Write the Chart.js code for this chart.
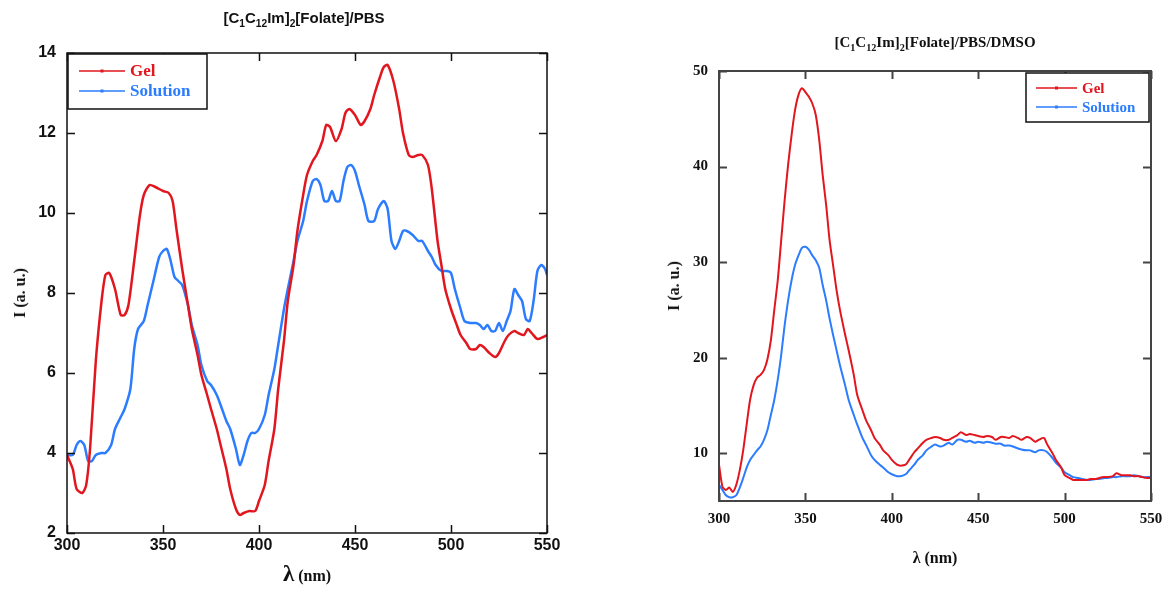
<!DOCTYPE html>
<html>
<head>
<meta charset="utf-8">
<script src="https://cdn.jsdelivr.net/npm/chart.js@4.4.1/dist/chart.umd.min.js"></script>
<style>
  body { margin: 0; background: #fff; width: 1165px; height: 590px; position: relative; overflow: hidden; }
  canvas { position: absolute; top: 0; }
  #c1 { left: 0; }
  #c2 { left: 590px; }
  .lbl { position: absolute; white-space: nowrap; color: #111; font-weight: bold; transform: translateX(-50%); }
  .lbl sub { font-size: 0.68em; vertical-align: -0.35em; line-height: 0; }
  .sans { font-family: "Liberation Sans", Arial, sans-serif; }
  .serif { font-family: "Liberation Serif", "Times New Roman", serif; }
  .rot { transform: translate(-50%, -50%) rotate(-90deg); }
</style>
</head>
<body>
<canvas id="c1" width="580" height="590"></canvas>
<canvas id="c2" width="575" height="590"></canvas>

<div class="lbl sans" style="left:304px; top:9px; font-size:15px;">[C<sub>1</sub>C<sub>12</sub>Im]<sub>2</sub>[Folate]/PBS</div>
<div class="lbl serif" style="left:307px; top:561px;"><span style="font-size:23px;">λ</span><span style="font-size:16px;"> (nm)</span></div>
<div class="lbl serif rot" style="left:20px; top:293px; font-size:16px;">I (a. u.)</div>

<div class="lbl serif" style="left:935px; top:34px; font-size:15px;">[C<sub>1</sub>C<sub>12</sub>Im]<sub>2</sub>[Folate]/PBS/DMSO</div>
<div class="lbl serif" style="left:935px; top:549px; font-size:16px;">λ (nm)</div>
<div class="lbl serif rot" style="left:674px; top:286px; font-size:16px;">I (a. u.)</div>

<script>
// ---- left panel: [C1C12Im]2[Folate]/PBS ----
const leftGelNm = [300, 303, 305, 308, 310, 312, 315, 318, 320, 322, 325, 328, 330, 332, 335, 338, 340, 343, 346, 350,
  353, 355, 357, 360, 363, 365, 368, 370, 373, 375, 378, 380, 383, 385, 388, 390, 392, 395, 398, 400,
  403, 405, 408, 410, 413, 415, 418, 420, 423, 425, 428, 430, 433, 435, 437, 440, 443, 445, 447, 450,
  453, 455, 458, 460, 463, 465, 467, 470, 473, 475, 478, 480, 483, 485, 488, 490, 493, 495, 497, 500,
  503, 505, 508, 510, 513, 515, 517, 520, 523, 525, 528, 530, 533, 535, 538, 540, 542, 545, 548, 550];
const leftGel = [3.95, 3.6, 3.1, 3.0, 3.2, 4.1, 6.3, 7.8, 8.45, 8.5, 8.1, 7.45, 7.45, 7.7, 8.8, 9.95, 10.45, 10.7, 10.65, 10.55,
  10.5, 10.3, 9.6, 8.6, 7.7, 7.1, 6.45, 5.95, 5.45, 5.1, 4.6, 4.2, 3.6, 3.1, 2.6, 2.45, 2.5, 2.55, 2.55, 2.8,
  3.2, 3.8, 4.6, 5.6, 6.8, 7.8, 8.7, 9.55, 10.45, 10.95, 11.3, 11.45, 11.8, 12.2, 12.15, 11.8, 12.1, 12.5, 12.6, 12.45,
  12.2, 12.3, 12.6, 12.95, 13.4, 13.65, 13.7, 13.3, 12.6, 12.0, 11.45, 11.4, 11.45, 11.45, 11.2, 10.6, 9.3, 8.7, 8.1, 7.6,
  7.2, 6.95, 6.75, 6.6, 6.6, 6.7, 6.65, 6.5, 6.4, 6.5, 6.8, 6.95, 7.05, 7.0, 6.95, 7.1, 7.0, 6.85, 6.9, 6.95];

const leftSolNm = [300, 303, 305, 307, 309, 311, 313, 315, 318, 320, 323, 325, 328, 330, 333, 335, 337, 340, 342, 345,
  348, 350, 352, 354, 356, 358, 360, 363, 365, 368, 370, 373, 375, 378, 380, 383, 385, 388, 390, 392,
  394, 396, 398, 400, 403, 405, 408, 410, 413, 415, 418, 420, 423, 425, 428, 430, 432, 434, 436, 438,
  440, 442, 444, 446, 448, 450, 452, 455, 457, 460, 462, 465, 467, 469, 471, 473, 475, 477, 480, 483,
  485, 488, 490, 492, 495, 498, 500, 502, 505, 507, 510, 513, 515, 517, 519, 521, 523, 525, 527, 529,
  531, 533, 535, 537, 539, 541, 543, 545, 547, 549, 550];
const leftSol = [3.95, 3.95, 4.2, 4.3, 4.2, 3.8, 3.8, 3.95, 4.0, 4.0, 4.2, 4.6, 4.9, 5.1, 5.6, 6.6, 7.1, 7.3, 7.7, 8.3,
  8.9, 9.05, 9.1, 8.8, 8.4, 8.3, 8.2, 7.7, 7.2, 6.7, 6.2, 5.8, 5.7, 5.45, 5.2, 4.8, 4.6, 4.1, 3.7, 3.95,
  4.3, 4.5, 4.5, 4.6, 4.95, 5.45, 6.1, 6.7, 7.6, 8.1, 8.8, 9.3, 9.8, 10.3, 10.8, 10.85, 10.7, 10.3, 10.3, 10.55,
  10.3, 10.3, 10.8, 11.15, 11.2, 11.05, 10.7, 10.2, 9.8, 9.8, 10.1, 10.3, 10.1, 9.3, 9.1, 9.3, 9.55, 9.55, 9.45, 9.3,
  9.3, 9.05, 8.9, 8.7, 8.55, 8.55, 8.5, 8.1, 7.6, 7.3, 7.25, 7.25, 7.2, 7.1, 7.2, 7.05, 7.05, 7.25, 7.05, 7.3,
  7.55, 8.1, 7.95, 7.8, 7.35, 7.3, 7.8, 8.55, 8.7, 8.6, 8.45];
const leftYTicks = [2, 4, 6, 8, 10, 12, 14];

// ---- right panel: [C1C12Im]2[Folate]/PBS/DMSO ----
const rightNm = [300, 302, 304, 306, 308, 310, 312, 314, 316, 318, 320, 322, 324, 326, 328, 330, 332, 334, 336, 338,
  340, 342, 344, 346, 348, 350, 352, 354, 356, 358, 360, 362, 364, 366, 368, 370, 373, 375, 378, 380,
  383, 385, 388, 390, 393, 395, 398, 400, 403, 405, 408, 410, 413, 415, 418, 420, 423, 425, 428, 430,
  433, 435, 438, 440, 443, 445, 448, 450, 453, 455, 458, 460, 463, 465, 468, 470, 473, 475, 478, 480,
  483, 485, 488, 490, 493, 495, 498, 500, 503, 505, 508, 510, 513, 515, 518, 520, 523, 525, 528, 530,
  533, 535, 538, 540, 543, 545, 548, 550];
const rightGel = [8.8, 6.5, 6.15, 6.4, 5.95, 6.7, 8.2, 10.3, 13.0, 15.6, 17.1, 17.9, 18.2, 18.7, 19.8, 21.8, 25.0, 28.1, 32.3, 36.5,
  40.2, 43.3, 45.9, 47.5, 48.2, 47.8, 47.3, 46.6, 45.4, 42.8, 39.1, 36.0, 32.3, 29.7, 27.1, 25.0, 22.4, 20.8, 18.2, 16.1,
  14.5, 13.5, 12.4, 11.6, 10.9, 10.3, 9.8, 9.3, 8.8, 8.7, 8.8, 9.3, 10.1, 10.5, 11.1, 11.4, 11.6, 11.7, 11.6, 11.4,
  11.4, 11.6, 11.9, 12.2, 11.9, 12.0, 11.9, 11.8, 11.7, 11.8, 11.7, 11.4, 11.7, 11.7, 11.6, 11.8, 11.6, 11.4, 11.7, 11.6,
  11.2, 11.4, 11.6, 10.9, 10.0, 9.3, 8.5, 7.7, 7.4, 7.2, 7.2, 7.2, 7.2, 7.3, 7.3, 7.4, 7.5, 7.5, 7.6, 7.9,
  7.7, 7.7, 7.7, 7.6, 7.6, 7.5, 7.4, 7.4];
const rightSol = [6.7, 6.15, 5.6, 5.4, 5.4, 5.6, 6.4, 7.4, 8.5, 9.3, 9.8, 10.3, 10.7, 11.4, 12.4, 14.0, 15.6, 17.7, 20.3, 23.4,
  26.0, 28.1, 29.7, 30.7, 31.5, 31.6, 31.3, 30.7, 30.2, 29.4, 27.6, 26.0, 24.1, 22.4, 20.8, 19.2, 17.1, 15.6, 14.0, 13.0,
  11.6, 10.9, 9.8, 9.3, 8.8, 8.5, 8.0, 7.8, 7.6, 7.6, 7.8, 8.2, 8.8, 9.3, 9.8, 10.3, 10.7, 10.9, 10.7, 10.8,
  11.1, 10.9, 11.4, 11.4, 11.2, 11.3, 11.1, 11.2, 11.1, 11.2, 11.1, 11.0, 11.0, 10.8, 10.8, 10.7, 10.5, 10.4, 10.3, 10.3,
  10.1, 10.3, 10.3, 10.1, 9.5, 9.0, 8.5, 8.0, 7.7, 7.5, 7.4, 7.3, 7.2, 7.2, 7.3, 7.3, 7.4, 7.4, 7.5, 7.5,
  7.6, 7.6, 7.6, 7.7, 7.6, 7.5, 7.5, 7.5];
const rightYTicks = [10, 20, 30, 40, 50];

const xTicks = [300, 350, 400, 450, 500, 550];
const seriesNames = ['Gel', 'Solution'];
const RED = 'rgb(226, 22, 30)';
const BLUE = 'rgb(44, 124, 255)';

const toPoints = (xs, ys) => xs.map((x, i) => ({ x: x, y: ys[i] }));

// box around the plot, inward ticks on all sides, legend with a frame
const framePlugin = {
  id: 'framePlugin',
  afterDraw(chart, args, opts) {
    const { ctx, chartArea: a, scales } = chart;
    const L = opts.tickLen;
    ctx.save();
    ctx.strokeStyle = opts.color;
    ctx.lineWidth = opts.lineWidth;
    ctx.beginPath();
    scales.x.ticks.forEach((t) => {
      const px = Math.round(scales.x.getPixelForValue(t.value)) + 0.5;
      ctx.moveTo(px, a.bottom); ctx.lineTo(px, a.bottom - L);
      ctx.moveTo(px, a.top); ctx.lineTo(px, a.top + L);
    });
    scales.y.ticks.forEach((t) => {
      const py = Math.round(scales.y.getPixelForValue(t.value)) + 0.5;
      ctx.moveTo(a.left, py); ctx.lineTo(a.left + L, py);
      ctx.moveTo(a.right, py); ctx.lineTo(a.right - L, py);
    });
    ctx.stroke();

    // legend
    const b = opts.legend;
    const bx = a.left + b.dx, by = a.top + b.dy;
    ctx.fillStyle = '#fff';
    ctx.fillRect(bx, by, b.w, b.h);
    ctx.strokeStyle = '#111';
    ctx.lineWidth = 1.5;
    ctx.strokeRect(bx, by, b.w, b.h);
    ctx.font = 'bold ' + b.fontSize + 'px "Liberation Serif", serif';
    ctx.textBaseline = 'middle';
    chart.data.datasets.forEach((ds, i) => {
      const ly = by + b.rowY + i * b.rowGap;
      ctx.strokeStyle = ds.borderColor;
      ctx.lineWidth = 1.5;
      ctx.beginPath();
      ctx.moveTo(bx + b.lineX, ly);
      ctx.lineTo(bx + b.lineX + b.lineLen, ly);
      ctx.stroke();
      ctx.fillStyle = ds.borderColor;
      ctx.fillRect(bx + b.lineX + b.lineLen / 2 - 1.5, ly - 1.5, 3, 3);
      ctx.fillText(ds.label, bx + b.lineX + b.lineLen + 5, ly + 1);
    });

    // frame last so it sits on top of the curves
    ctx.strokeStyle = opts.color;
    ctx.lineWidth = opts.lineWidth;
    ctx.strokeRect(a.left, a.top, a.right - a.left, a.bottom - a.top);
    ctx.restore();
  }
};

const makeChart = (id, cfg) => {
  return new Chart(id, {
    type: 'line',
    data: {
      datasets: [
        { label: seriesNames[0], data: cfg.gel, borderColor: RED, borderWidth: cfg.lw, pointRadius: 0, tension: 0.25 },
        { label: seriesNames[1], data: cfg.sol, borderColor: BLUE, borderWidth: cfg.lw, pointRadius: 0, tension: 0.25 },
      ],
    },
    options: {
      responsive: false,
      animation: false,
      layout: { padding: { left: 0, top: cfg.top, right: cfg.right, bottom: 0 } },
      plugins: {
        legend: { display: false },
        tooltip: { enabled: false },
        framePlugin: { color: cfg.frameColor, lineWidth: cfg.frameWidth, tickLen: 8, legend: cfg.legend },
      },
      scales: {
        x: {
          type: 'linear',
          min: 300,
          max: 550,
          afterBuildTicks: (s) => { s.ticks = xTicks.map((v) => ({ value: v })); },
          afterFit: (s) => {
            s.height = cfg.xAxisH;
            s.paddingLeft = 0;
            s.paddingRight = 0;
          },
          grid: { display: false, drawTicks: false },
          border: { display: false },
          ticks: { color: '#111', padding: cfg.xPad, maxRotation: 0, font: cfg.tickFont },
        },
        y: {
          min: cfg.yMin,
          max: cfg.yMax,
          afterBuildTicks: (s) => { s.ticks = cfg.yTicks.map((v) => ({ value: v })); },
          afterFit: (s) => {
            s.width = cfg.yAxisW;
            s.paddingTop = 0;
            s.paddingBottom = 0;
          },
          grid: { display: false, drawTicks: false },
          border: { display: false },
          ticks: { color: '#111', padding: cfg.yPad, font: cfg.tickFont },
        },
      },
    },
    plugins: [framePlugin],
  });
};

makeChart('c1', {
  gel: toPoints(leftGelNm, leftGel),
  sol: toPoints(leftSolNm, leftSol),
  lw: 2.5,
  yMin: 2, yMax: 14, yTicks: leftYTicks,
  top: 53, right: 33, xAxisH: 57, yAxisW: 67,
  xPad: 3, yPad: 11,
  tickFont: { family: '"Liberation Sans", Arial, sans-serif', weight: 'bold', size: 16 },
  frameColor: '#111', frameWidth: 1.5,
  legend: { dx: 1, dy: 1, w: 139, h: 55, lineX: 11, lineLen: 46, rowY: 17, rowGap: 20, fontSize: 17 },
});

makeChart('c2', {
  gel: toPoints(rightNm, rightGel),
  sol: toPoints(rightNm, rightSol),
  lw: 2,
  yMin: 5, yMax: 50, yTicks: rightYTicks,
  top: 71, right: 14, xAxisH: 89, yAxisW: 129,
  xPad: 9, yPad: 11,
  tickFont: { family: '"Liberation Serif", "Times New Roman", serif', weight: 'bold', size: 15 },
  frameColor: '#444', frameWidth: 2,
  legend: { dx: 307, dy: 2, w: 123, h: 49, lineX: 10, lineLen: 41, rowY: 15, rowGap: 19, fontSize: 15 },
});
</script>
</body>
</html>
